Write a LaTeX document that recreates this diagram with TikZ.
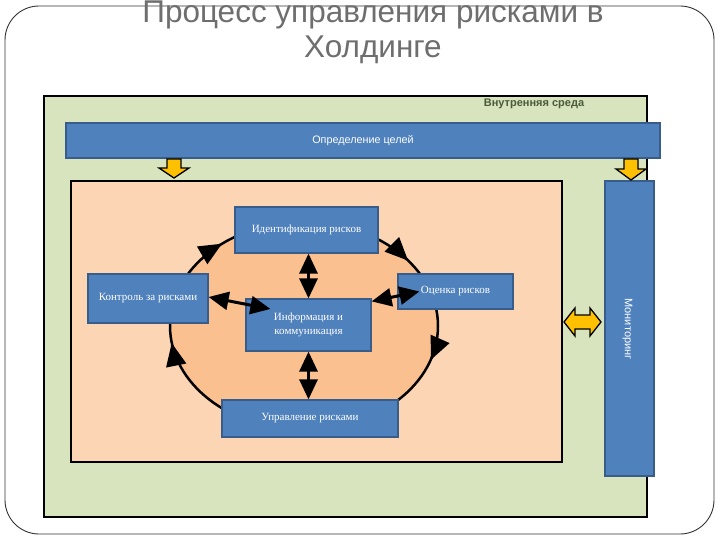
\documentclass[tikz,border=0pt]{standalone}
\usepackage{fontspec}
\setmainfont{Liberation Serif}
\newfontfamily\arialf{Liberation Sans}
\usetikzlibrary{arrows.meta}
\definecolor{envgreen}{HTML}{D7E4BD}
\definecolor{peach}{HTML}{FCD5B5}
\definecolor{ellfill}{HTML}{FAC090}
\definecolor{boxblue}{HTML}{4F81BD}
\definecolor{boxedge}{HTML}{385D8A}
\definecolor{arrowyellow}{HTML}{FFC000}
\definecolor{titlegrey}{HTML}{6E6E6E}
\definecolor{envtext}{HTML}{4A5A3A}
\tikzset{
  bluebox/.style={draw=boxedge, fill=boxblue, line width=1.2pt, text=white, inner sep=0pt},
  riskbox/.style={bluebox, font=\fontsize{11}{13.5}\selectfont, align=center},
  dblarrow/.style={line width=3pt, {Triangle[length=20pt,width=18pt]}-{Triangle[length=20pt,width=18pt]}},
  cyctip/.style={line width=2.5pt, -{Triangle[length=23pt,width=20pt]}},
  blockarrow/.style={draw=black, fill=arrowyellow, line width=1.3pt, line join=miter},
}
\begin{document}
\begin{tikzpicture}[x=1pt,y=-1pt]
\useasboundingbox (0,0) rectangle (720,540);
% outer slide frame
\draw[line width=0.9pt, draw=black!80, rounded corners=34pt] (5,6) rectangle (714,534);
% title
\node[anchor=base, font=\arialf\fontsize{31.5}{38}\selectfont, text=titlegrey] (t1) at (373,22.5) {Процесс управления рисками в};
\node[anchor=base, font=\arialf\fontsize{31.5}{38}\selectfont, text=titlegrey] (t2) at (373,58) {Холдинге};
% internal environment
\draw[fill=envgreen, draw=black, line width=1.8pt] (44,96) rectangle (647,517);
\node[anchor=base, font=\arialf\bfseries\fontsize{11}{13}\selectfont, text=envtext] (env) at (534,107) {Внутренняя среда};
% goals bar
\node[bluebox, minimum width=594pt, minimum height=35pt, font=\arialf\fontsize{10.8}{13}\selectfont] (goals) at (363,140.5) {Определение целей};
% process area
\draw[fill=peach, draw=black, line width=1.8pt] (71,181) rectangle (562,462);
% monitoring bar
\node[bluebox, minimum width=49pt, minimum height=295pt] (mon) at (629.5,328.5) {};
\node[rotate=-90, text=white, font=\arialf\fontsize{11}{13}\selectfont] (montext) at (627.5,329) {Мониторинг};
% yellow block arrows
\draw[blockarrow] (167,159) -- (181,159) -- (181,168) -- (189,168) -- (174,178) -- (159,168) -- (167,168) -- cycle;
\draw[blockarrow] (624,159) -- (638,159) -- (638,169) -- (646,169) -- (631,180) -- (616,169) -- (624,169) -- cycle;
\draw[blockarrow] (564,322) -- (575,308) -- (575,315) -- (590,315) -- (590,308) -- (601,322) -- (590,336) -- (590,329) -- (575,329) -- (575,336) -- cycle;
% cycle ellipse
\coordinate (ec) at (304,326);
\draw[fill=ellfill, draw=black, line width=2.5pt] (ec) ellipse [x radius=134, y radius=104];
% cycle arrowheads (clockwise)
\coordinate (a1s) at (220.3,244.7); \coordinate (a1e) at (222.0,243.7);
\coordinate (a2s) at (406.7,259.2); \coordinate (a2e) at (408.1,260.6);
\coordinate (a3s) at (431.6,358.1); \coordinate (a3e) at (430.8,359.9);
\coordinate (a4s) at (172.1,345.0); \coordinate (a4e) at (171.7,343.0);
\draw[cyctip] (a1s) -- (a1e);
\draw[cyctip] (a2s) -- (a2e);
\draw[cyctip] (a3s) -- (a3e);
\draw[cyctip] (a4s) -- (a4e);
% boxes
\node[riskbox, minimum width=143pt, minimum height=46pt] (ident) at (306.5,230) {Идентификация рисков};
\node[riskbox, minimum width=115pt, minimum height=35pt] (eval) at (455.5,291.5) {Оценка рисков};
\node[riskbox, minimum width=120pt, minimum height=49pt] (ctrl) at (148,298.5) {Контроль за рисками};
\node[riskbox, minimum width=125pt, minimum height=52pt] (info) at (308.5,325) {Информация и\\коммуникация};
\node[riskbox, minimum width=176pt, minimum height=37pt] (mgmt) at (310,418.5) {Управление рисками};
% links to information
\draw[dblarrow] (ident.south -| info.north) -- (info.north);
\draw[dblarrow] (info.south) -- (info.south |- mgmt.north);
\draw[dblarrow] ([yshift=-3pt]info.north east) -- ([xshift=22pt]eval.west);
\draw[dblarrow] ([yshift=1.5pt]ctrl.east) -- ([xshift=25pt,yshift=16pt]info.west);
\end{tikzpicture}
\end{document}
